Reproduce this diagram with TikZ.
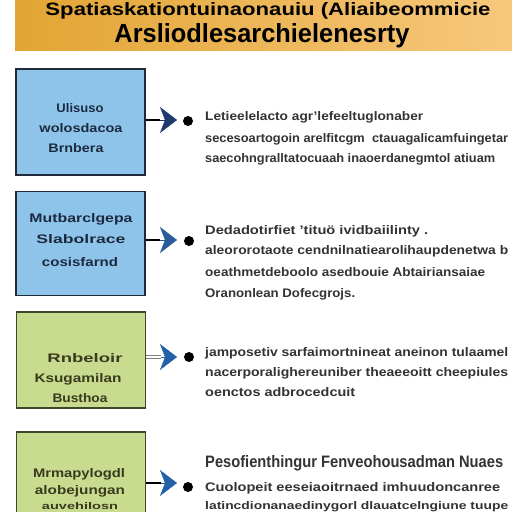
\documentclass[tikz,border=0pt]{standalone}
\usepackage{fontspec}
\setmainfont{Liberation Sans}
\usetikzlibrary{arrows.meta}
\definecolor{bannerL}{HTML}{E2A434}
\definecolor{bannerR}{HTML}{F7C87C}
\definecolor{boxblue}{HTML}{8FC4EA}
\definecolor{boxgreen}{HTML}{C8DB8E}
\definecolor{edgeblue}{HTML}{1F2A3A}
\definecolor{edgegreen}{HTML}{3C4A28}
\definecolor{labblue}{HTML}{1C2A40}
\definecolor{labgreen}{HTML}{3A3A1E}
\definecolor{bodytxt}{HTML}{333333}
\definecolor{tipA}{HTML}{1E3A6E}
\definecolor{tipB}{HTML}{2A5C9A}
\definecolor{tipC}{HTML}{2462A8}
\newcommand{\fw}[3]{\resizebox{#1pt}{#2pt}{\bfseries #3}}
\tikzset{
  x=1pt, y=-1pt,
  panel/.style={draw=#1, line width=1.3pt, minimum width=129pt, minimum height=104pt, inner sep=0pt},
  lab/.style={anchor=base, text=#1, inner sep=0pt},
  body/.style={anchor=base west, text=bodytxt, inner sep=0pt},
  dot/.style={circle, fill=black, minimum size=10pt, inner sep=0pt},
  shaft/.style={line width=2.6pt, draw=black},
  tip/.style={-{Stealth[length=17pt,width=26pt,inset=5pt,color=#1,fill=#1]}, draw=#1, line width=0.4pt}
}
\begin{document}
\begin{tikzpicture}
\useasboundingbox (0,0) rectangle (512,512);
\fill[white] (0,0) rectangle (512,512);
% banner
\shade[left color=bannerL, right color=bannerR] (15,0) rectangle (512,50);
\node[lab=black] (t0) at (268,15) {\fw{445}{13}{Spatiaskationtuinaonauiu (Aliaibeommicie}};
\node[lab=black] (t1) at (262,42) {\fw{295}{19}{Arsliodlesarchielenesrty}};

% panel 1
\node[panel=edgeblue, fill=boxblue, minimum height=106pt] (b1) at (80.5,122) {};
\node[lab=labblue] (l11) at (80,112) {\fw{47}{9}{Ulisuso}};
\node[lab=labblue] (l12) at (81,132) {\fw{83}{9}{wolosdacoa}};
\node[lab=labblue] (l13) at (76,152) {\fw{55}{9}{Brnbera}};
\coordinate (s1) at (160,120);
\coordinate (h1) at (177,120);
\draw[shaft] (b1.east |- s1) -- (s1);
\draw[tip=tipA] (s1) -- (h1);
\node[dot] (d1) at (188,121) {};
\node[body] (x11) at (205,120) {\fw{218}{9}{Letieelelacto agr'lefeeltuglonaber}};
\node[body] (x12) at (205,142) {\fw{303}{9}{secesoartogoin arelfitcgm\ \ ctauagalicamfuingetar}};
\node[body] (x13) at (205,162) {\fw{290}{9}{saecohngralltatocuaah inaoerdanegmtol atiuam}};

% panel 2
\node[panel=edgeblue, fill=boxblue] (b2) at (80.5,243.5) {};
\node[lab=labblue] (l21) at (81,222) {\fw{103}{9}{Mutbarclgepa}};
\node[lab=labblue] (l22) at (81,243) {\fw{89}{9}{Slabolrace}};
\node[lab=labblue] (l23) at (80,266) {\fw{76}{9}{cosisfarnd}};
\coordinate (s2) at (160,240);
\coordinate (h2) at (177,240);
\draw[shaft] (b2.east |- s2) -- (s2);
\draw[tip=tipB] (s2) -- (h2);
\node[dot] (d2) at (189,241) {};
\node[body] (x21) at (205,234) {\fw{223}{9}{Dedadotirfiet 'tituö ividbaiilinty .}};
\node[body] (x22) at (205,254) {\fw{303}{9}{aleororotaote cendnilnatiearolihaupdenetwa b}};
\node[body] (x23) at (205,276) {\fw{280}{9}{oeathmetdeboolo asedbouie Abtairiansaiae}};
\node[body] (x24) at (205,297) {\fw{150}{9}{Oranonlean Dofecgrojs.}};

% panel 3
\node[panel=edgegreen, fill=boxgreen, minimum height=96pt] (b3) at (81,360) {};
\node[lab=labgreen] (l31) at (85,362) {\fw{75}{9}{Rnbeloir}};
\node[lab=labgreen] (l32) at (78,382) {\fw{87}{9}{Ksugamilan}};
\node[lab=labgreen] (l33) at (80,402) {\fw{55}{9}{Busthoa}};
\coordinate (s3) at (161,357);
\coordinate (h3) at (177,357);
\draw[draw=gray, line width=1pt, double=white, double distance=2.4pt] (b3.east |- s3) -- (s3);
\draw[tip=tipC] (s3) -- (h3);
\node[dot] (d3) at (189,357) {};
\node[body] (x31) at (205,356) {\fw{303}{9}{jamposetiv sarfaimortnineat aneinon tulaamel}};
\node[body] (x32) at (205,376) {\fw{303}{9}{nacerporalighereuniber theaeeoitt cheepiules}};
\node[body] (x33) at (205,396) {\fw{150}{9}{oenctos adbrocedcuit}};

% panel 4
\node[panel=edgegreen, fill=boxgreen, minimum height=100pt] (b4) at (81,482) {};
\node[lab=labgreen] (l41) at (79,477) {\fw{92}{9}{Mrmapylogdl}};
\node[lab=labgreen] (l42) at (80,494) {\fw{90}{9}{alobejungan}};
\node[lab=labgreen] (l43) at (80,509) {\fw{76}{7}{auvehilosn}};
\coordinate (s4) at (161,483);
\coordinate (h4) at (177,483);
\draw[shaft] (b4.east |- s4) -- (s4);
\draw[tip=tipC] (s4) -- (h4);
\node[dot] (d4) at (188,487) {};
\node[body] (x41) at (205,467) {\fw{298}{12}{Pesofienthingur Fenveohousadman Nuaes}};
\node[body] (x42) at (205,491) {\fw{295}{9}{Cuolopeit eeseiaoitrnaed imhuudoncanree}};
\node[body] (x43) at (205,509) {\fw{303}{8}{latincdionanaedinygorl dlauatcelngiune tuupe}};
\end{tikzpicture}
\end{document}
